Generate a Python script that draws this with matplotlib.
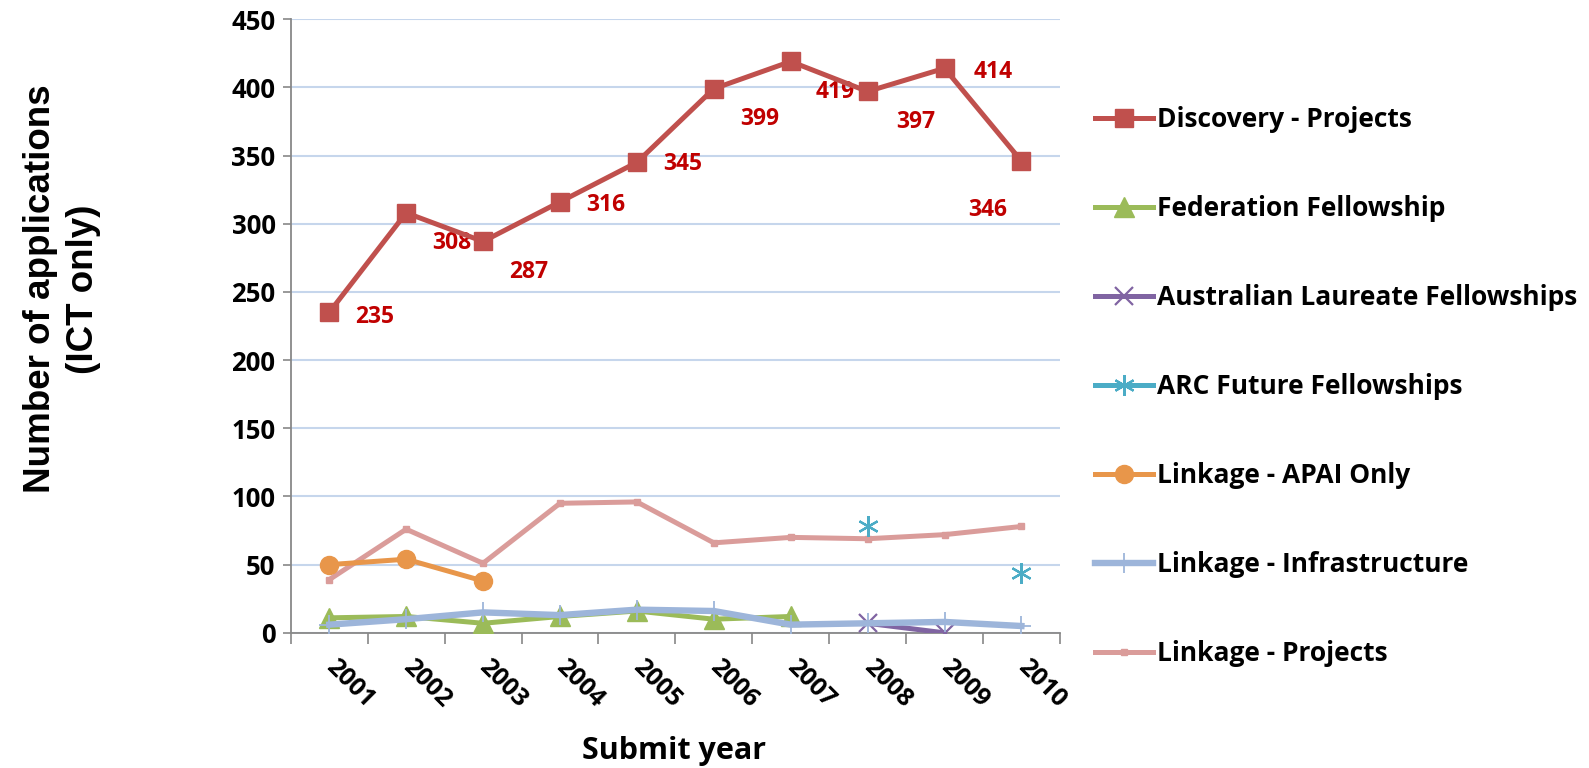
import matplotlib
matplotlib.use('Agg')
import matplotlib.pyplot as plt
from matplotlib.ticker import FixedLocator

plt.rcParams['font.family'] = ['Open Sans', 'DejaVu Sans']
plt.rcParams['font.weight'] = 'bold'

years = [2001, 2002, 2003, 2004, 2005, 2006, 2007, 2008, 2009, 2010]

discovery_projects = [235, 308, 287, 316, 345, 399, 419, 397, 414, 346]
federation_fellowship = [11, 12, 7, 12, 16, 10, 12, None, None, None]
laureate_fellowships = [None, None, None, None, None, None, None, 7, 0, None]
future_fellowships = [None, None, None, None, None, None, None, 78, None, 44]
linkage_apai = [50, 54, 38, None, None, None, None, None, None, None]
linkage_infrastructure = [6, 10, 15, 13, 17, 16, 6, 7, 8, 5]
linkage_projects = [39, 76, 51, 95, 96, 66, 70, 69, 72, 78]

# label offsets (points) for the Discovery values
label_offsets = [(33, -3), (33, -22), (33, -22), (33, -2), (33, -1),
                 (33, -22), (32, -22), (35, -22), (35, -3), (-24, -35)]

x = list(range(1, len(years) + 1))

def clean(vals):
    return [float('nan') if v is None else v for v in vals]

fig = plt.figure(figsize=(15.89, 7.68), dpi=100)
ax = fig.add_axes([0.183, 0.176, 0.484, 0.799])

lw = 3.6
ax.plot(x, discovery_projects, color='#C0504D', lw=lw, marker='s', ms=13,
        label='Discovery - Projects', zorder=5)
ax.plot(x, clean(federation_fellowship), color='#9BBB59', lw=lw, marker='^', ms=14,
        label='Federation Fellowship', zorder=3)
ax.plot(x, clean(laureate_fellowships), color='#8064A2', lw=lw, marker='x', ms=13,
        mew=1.6, label='Australian Laureate Fellowships', zorder=4)
ax.plot(x, clean(future_fellowships), color='#4BACC6', lw=lw, marker=(6, 2, 0), ms=15,
        mew=1.6, label='ARC Future Fellowships', zorder=4)
ax.plot(x, clean(linkage_apai), color='#E8964A', lw=lw, marker='o', ms=13,
        label='Linkage - APAI Only', zorder=4)
ax.plot(x, linkage_infrastructure, color='#9DB5DA', lw=lw + 1, marker='+', ms=15,
        mew=1.3, label='Linkage - Infrastructure', zorder=4)
ax.plot(x, linkage_projects, color='#DA9C9A', lw=lw, marker='s', ms=5,
        label='Linkage - Projects', zorder=3)

for xi, v, off in zip(x, discovery_projects, label_offsets):
    ax.annotate(str(v), (xi, v), xytext=off, textcoords='offset points',
                ha='center', va='center', color='#C00000', fontsize=16.5,
                fontweight='bold')

ax.set_xlim(0.5, len(years) + 0.5)
ax.set_ylim(0, 450)
ax.set_yticks(range(0, 451, 50))
ax.set_xticks(x)
ax.set_xticklabels([str(y) for y in years], rotation=-45, ha='left',
                   va='center', rotation_mode='anchor', fontsize=18)
ax.xaxis.set_minor_locator(FixedLocator([i + 0.5 for i in range(0, len(years) + 1)]))
ax.tick_params(axis='x', which='major', length=0, pad=22)
ax.tick_params(axis='x', which='minor', length=8, color='#888888', width=1.2)
ax.tick_params(axis='y', labelsize=18.5, length=6, color='#888888', width=1.2, pad=5)

ax.grid(axis='y', color='#C6D6EC', lw=1.5)
ax.set_axisbelow(True)
for s in ['top', 'right']:
    ax.spines[s].set_visible(False)
for s in ['left', 'bottom']:
    ax.spines[s].set_color('#888888')
    ax.spines[s].set_linewidth(1.3)

fig.text(0.424, 0.022, 'Submit year', ha='center', va='center', fontsize=22,
         fontweight='bold')
fig.text(0.039, 0.624, 'Number of applications\n(ICT only)', ha='center',
         va='center', rotation=90, fontsize=26.5, fontweight='bold',
         family=['Liberation Sans', 'DejaVu Sans'],
         multialignment='center', linespacing=1.3)

fig.legend(loc='center left', bbox_to_anchor=(0.674, 0.497), frameon=False,
           fontsize=19, labelspacing=2.35, handlelength=2.2, handletextpad=0.15)

fig.savefig('out.png', dpi=100)
